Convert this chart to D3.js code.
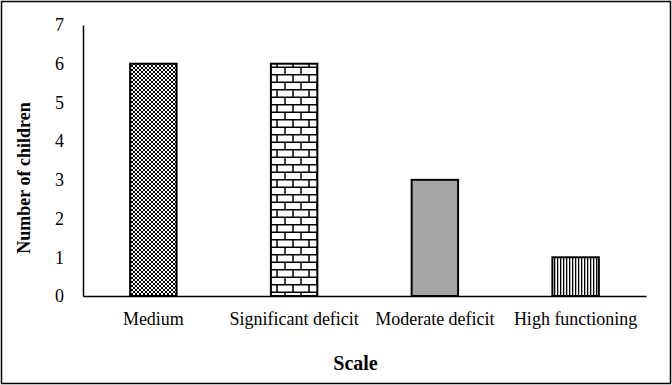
<!DOCTYPE html>
<html>
<head>
<meta charset="utf-8">
<script src="https://cdn.jsdelivr.net/npm/d3@7"></script>
<style>
  body { margin: 0; background: #fff; }
  text { font-family: "Liberation Serif", "Times New Roman", serif; fill: #000; }
</style>
</head>
<body>
<svg id="chart" width="672" height="385"></svg>
<script>
const categories = ['Medium', 'Significant deficit', 'Moderate deficit', 'High functioning'];
const counts = [6, 6, 3, 1];
const yTicks = [0, 1, 2, 3, 4, 5, 6, 7];
const fills = ['url(#checker)', 'url(#brick)', '#a6a6a6', 'url(#vlines)'];

const svg = d3.select('#chart');
const margin = {top: 25, right: 26, bottom: 89, left: 83};
const width = 672 - margin.left - margin.right;
const height = 385 - margin.top - margin.bottom;

// outer frame
svg.append('rect')
  .attr('x', 1.5).attr('y', 1.5).attr('width', 669).attr('height', 382)
  .attr('fill', '#fff').attr('stroke', '#000').attr('stroke-width', 1.5);

const defs = svg.append('defs');
//checkerboard
const ck = defs.append('pattern').attr('id', 'checker').attr('patternUnits', 'userSpaceOnUse')
  .attr('width', 4).attr('height', 4);
ck.append('rect').attr('width', 4).attr('height', 4).attr('fill', '#fff');
ck.append('rect').attr('width', 2).attr('height', 2).attr('fill', '#000');
ck.append('rect').attr('x', 2).attr('y', 2).attr('width', 2).attr('height', 2).attr('fill', '#000');

//bricks
const br = defs.append('pattern').attr('id', 'brick').attr('patternUnits', 'userSpaceOnUse')
  .attr('width', 16).attr('height', 15).attr('x', 1).attr('y', 64);
br.append('rect').attr('width', 16).attr('height', 15).attr('fill', '#fff');
br.append('path')
  .attr('d', 'M0,0.75H16M0,8.25H16M1,0V7.5M9,7.5V15')
  .attr('stroke', '#000').attr('stroke-width', 1.5).attr('fill', 'none');

//vertical lines
const vl = defs.append('pattern').attr('id', 'vlines').attr('patternUnits', 'userSpaceOnUse')
  .attr('width', 3).attr('height', 4);
vl.append('rect').attr('width', 3).attr('height', 4).attr('fill', '#fff');
vl.append('rect').attr('width', 1.3).attr('height', 4).attr('fill', '#000');

const g = svg.append('g').attr('transform', `translate(${margin.left},${margin.top})`);

const x = d3.scaleBand().domain(categories).range([0, width]).paddingInner(0.67).paddingOuter(0.335);
const y = d3.scaleLinear().domain([0, 7]).range([height, 0]);

g.selectAll('rect.bar')
  .data(categories)
  .join('rect')
  .attr('class', 'bar')
  .attr('x', d => x(d))
  .attr('y', (d, i) => y(counts[i]))
  .attr('width', x.bandwidth())
  .attr('height', (d, i) => height - y(counts[i]))
  .attr('fill', (d, i) => fills[i])
  .attr('stroke', '#000')
  .attr('stroke-width', 2);

const yAxis = g.append('g')
  .call(d3.axisLeft(y).tickValues(yTicks).tickSize(0).tickPadding(19).tickFormat(d3.format('d')));
yAxis.select('.domain').attr('stroke', '#000').attr('stroke-width', 1.5);
yAxis.selectAll('text').style('font-size', '18px').style('font-family', '"Liberation Serif", serif');

const xAxis = g.append('g')
  .attr('transform', `translate(0,${height})`)
  .call(d3.axisBottom(x).tickSize(0).tickPadding(16));
xAxis.select('.domain').attr('stroke', '#000').attr('stroke-width', 1.5);
xAxis.selectAll('text').style('font-size', '18px').style('font-family', '"Liberation Serif", serif');

//x-axis title
g.append('text')
  .attr('x', width / 2 - 9).attr('y', height + 74)
  .attr('text-anchor', 'middle')
  .style('font-size', '20px').style('font-weight', 'bold')
  .text('Scale');

//y-axis title
g.append('text')
  .attr('transform', 'rotate(-90)')
  .attr('x', -153).attr('y', -53)
  .attr('text-anchor', 'middle')
  .style('font-size', '18px').style('font-weight', 'bold')
  .text('Number of children');
</script>
</body>
</html>
